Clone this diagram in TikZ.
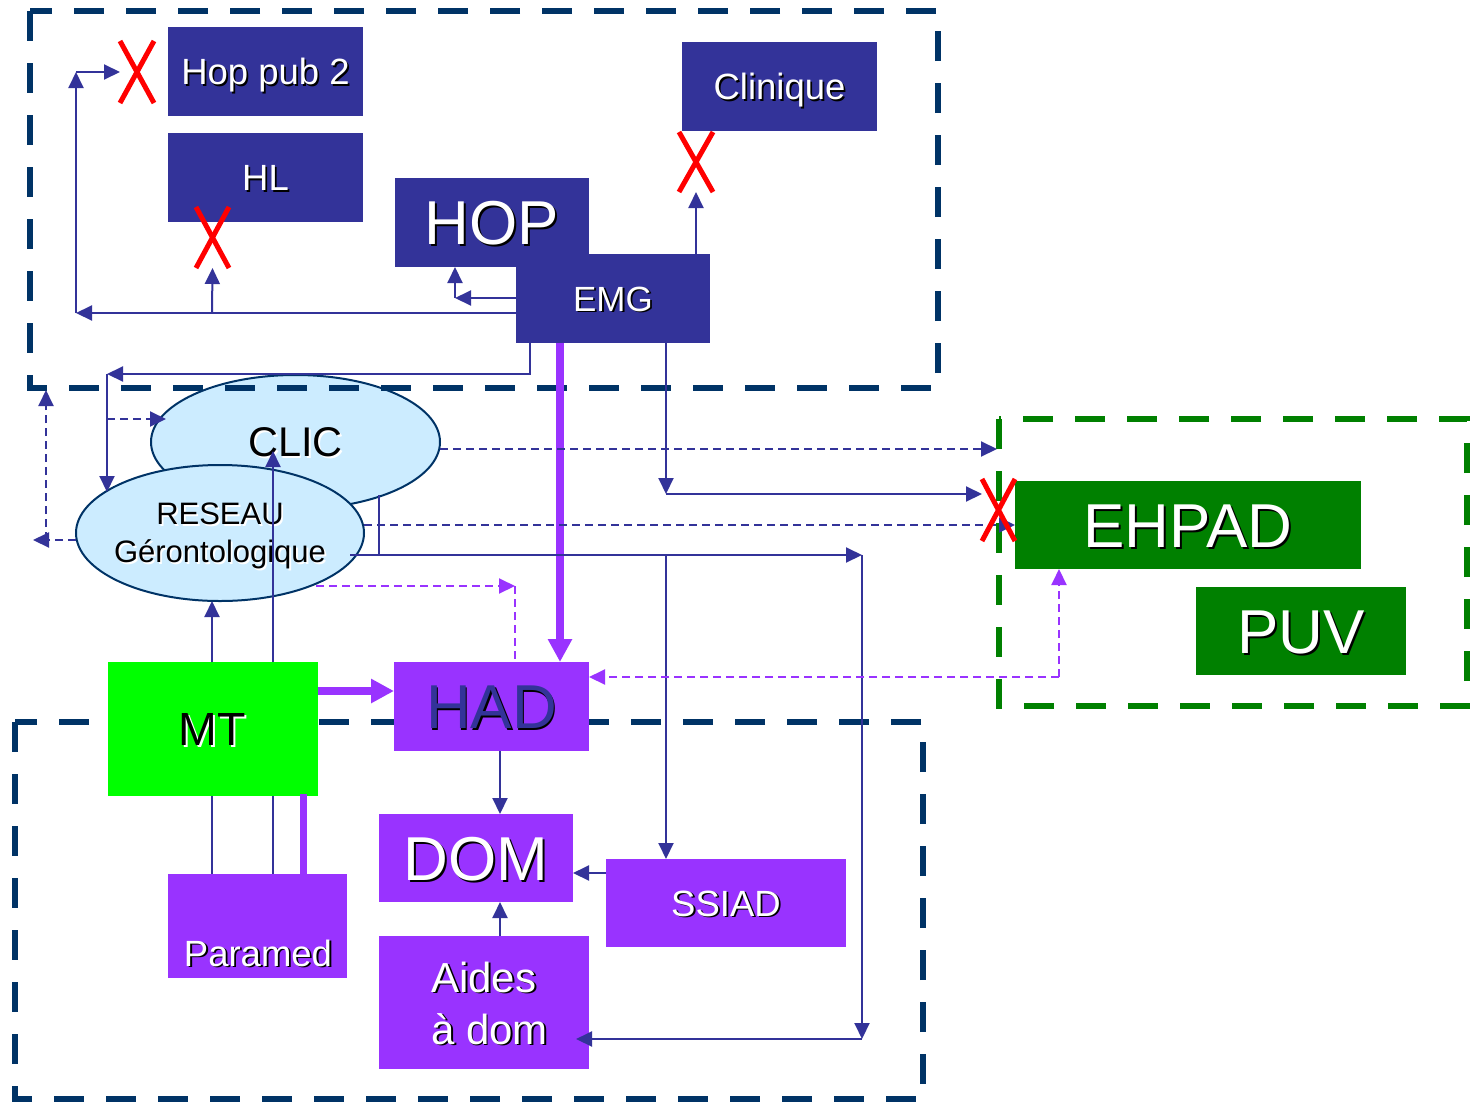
\documentclass[tikz,border=0pt]{standalone}
\usepackage{fontspec}
\setmainfont{Liberation Sans}
\usetikzlibrary{arrows.meta,shapes.geometric}
\definecolor{boxblue}{HTML}{333399}
\definecolor{lineblue}{HTML}{333399}
\definecolor{purp}{HTML}{9933FF}
\definecolor{framedark}{HTML}{003366}
\definecolor{framegreen}{HTML}{008000}
\definecolor{mtgreen}{HTML}{00FF00}
\definecolor{clicfill}{HTML}{CCECFF}
\newcommand\shd[2][black]{\leavevmode\rlap{\kern1.8pt\raisebox{-1.8pt}{\textcolor{#1}{#2}}}#2}
\newcommand\fbig{\fontsize{62pt}{70pt}\selectfont}
\newcommand\fmed{\fontsize{36.5pt}{44pt}\selectfont}
\newcommand\femg{\fontsize{35pt}{42pt}\selectfont}
\newcommand\fclic{\fontsize{41.5pt}{48pt}\selectfont}
\newcommand\fres{\fontsize{31pt}{38pt}\selectfont}
\newcommand\fmt{\fontsize{46.5pt}{54pt}\selectfont}
\newcommand\faides{\fontsize{42pt}{52pt}\selectfont}
\begin{document}
\begin{tikzpicture}[x=1pt,y=-1pt,
  box/.style={draw=none, inner sep=0pt, outer sep=0pt, anchor=center},
  bbox/.style={box, fill=boxblue, text=white},
  pbox/.style={box, fill=purp, text=white},
  gbox/.style={box, fill=framegreen, text=white},
  conn/.style={draw=lineblue, line width=2pt},
  arr/.style={conn, -{Triangle[length=16pt,width=15pt]}},
  darr/.style={arr, dash pattern=on 8pt off 5pt},
  pconn/.style={draw=purp, line width=2pt, dash pattern=on 8pt off 5pt},
  pdarr/.style={pconn, -{Triangle[length=16pt,width=15pt]}},
  parr/.style={draw=purp, line width=8pt, -{Triangle[length=23pt,width=23pt]}},
  pthick/.style={draw=purp, line width=7pt},
  redx/.style={draw=red, line width=5pt},
  bframe/.style={draw=framedark, line width=6pt, dash pattern=on 30pt off 22pt},
  gframe/.style={draw=framegreen, line width=6pt, dash pattern=on 30pt off 22pt},
  ell/.style={ellipse, draw=framedark, line width=2pt, fill=clicfill, inner sep=0pt, outer sep=0pt},
  capmed/.style={font=\fmed, text height=26pt, text depth=0pt},
  capbig/.style={font=\fbig, text height=44.5pt, text depth=0pt}
]
\useasboundingbox (0,0) rectangle (1477,1103);

% ellipses
\node[ell, minimum width=289pt, minimum height=134pt, font=\fclic, text height=29.7pt, text depth=0pt] (clic) at (295.5,442) {\shd[white]{CLIC}};
\node[ell, minimum width=288pt, minimum height=136pt] (reseau) at (220,533) {};
\node[font=\fres, align=center, inner sep=0pt] (restxt) at (220,537) {\shd[white]{RESEAU}\\\shd[white]{Gérontologique}};

% frames
\draw[bframe] (30,11) rectangle (938,388);
\draw[bframe] (15,722) rectangle (923,1099);
\draw[gframe] (999,419) rectangle (1467,706);

% boxes
\node[bbox, capmed, minimum width=195pt, minimum height=89pt] (hoppub) at (265.5,71.5) {\shd{Hop pub 2}};
\node[bbox, capmed, minimum width=195pt, minimum height=89pt] (hl) at (265.5,177.5) {\shd{HL}};
\node[bbox, capbig, minimum width=194pt, minimum height=89pt] (hop) at (492,222.5) {\shd[black]{HOP}};
\node[bbox, font=\femg, text height=25pt, text depth=0pt, minimum width=194pt, minimum height=89pt] (emg) at (613,298.5) {\shd{EMG}};
\node[bbox, capmed, minimum width=195pt, minimum height=89pt] (clinique) at (779.5,86.5) {\shd{Clinique}};
\node[box, fill=mtgreen, text=black, font=\fmt, text height=33.3pt, text depth=0pt, minimum width=210pt, minimum height=134pt] (mt) at (212.5,729) {\shd[white]{MT}};
\node[pbox, capbig, text=boxblue, minimum width=195pt, minimum height=89pt] (had) at (491.5,706.5) {\shd{HAD}};
\node[pbox, capbig, minimum width=194pt, minimum height=88pt] (dom) at (476,858) {\shd{DOM}};
\node[pbox, capmed, minimum width=240pt, minimum height=88pt] (ssiad) at (726,903) {\shd{SSIAD}};
\node[pbox, minimum width=210pt, minimum height=133pt] (aides) at (484,1002.5) {};
\node[font=\faides, text=white, align=left, inner sep=0pt, anchor=west] (aidestxt) at (431,1004) {\shd{Aides}\\\shd{à dom}};
\node[pbox, minimum width=179pt, minimum height=104pt] (paramed) at (257.5,926) {};
\node[capmed, text=white, inner sep=0pt] (paramedtxt) at (258,953) {\shd{Paramed}};
\node[gbox, capbig, minimum width=346pt, minimum height=88pt] (ehpad) at (1188,525) {\shd{EHPAD}};
\node[gbox, capbig, minimum width=210pt, minimum height=88pt] (puv) at (1301,631) {\shd{PUV}};

% red crosses (placeholders)
\node[box, minimum width=34pt, minimum height=62pt] (xhop) at (137,72) {};
\node[box, minimum width=33pt, minimum height=61pt] (xhl) at (212.5,237.5) {};
\node[box, minimum width=34pt, minimum height=60pt] (xcl) at (696,162) {};
\node[box, minimum width=33pt, minimum height=62pt] (xeh) at (998.5,510) {};

% coordinates
\coordinate (b1) at (76,313);
\coordinate (b2) at (76,72);
\coordinate (b3) at (212,313);
\coordinate (b4) at (455,298);
\coordinate (b5) at (530,374);
\coordinate (b6) at (107,374);
\coordinate (b7) at (107,492);
\coordinate (b8) at (107,419);
\coordinate (b8e) at (166,419);
\coordinate (pcol) at (560,0);
\coordinate (b9) at (666,494);
\coordinate (g1) at (997,449);
\coordinate (l1) at (33,540);
\coordinate (l2) at (46,540);
\coordinate (l3) at (46,390);
\coordinate (b10) at (379,495);
\coordinate (b11) at (379,555);
\coordinate (b13) at (350,555);
\coordinate (b12) at (862,555);
\coordinate (b14) at (862,1039);
\coordinate (a1) at (576,1039);
\coordinate (b15) at (666,555);
\coordinate (r1) at (212,601);
\coordinate (c2) at (273,451);
\coordinate (p2) at (316,586);
\coordinate (p3) at (515,586);
\coordinate (p4) at (0,691);
\coordinate (d1) at (500,0);
\coordinate (s1) at (0,873);
\coordinate (p5) at (303,0);
\coordinate (e1) at (1059,677);

% connectors
\draw[arr] (emg.west |- b1) -- (b1);
\draw[arr] (b1) -- (b2);
\draw[arr] (b2) -- (xhop.west);
\draw[arr] (b3) -- (xhl.south);
\draw[arr] (emg.west |- b4) -- (b4);
\draw[arr] (b4) -- (b4 |- hop.south);
\draw[arr] (xcl.south |- emg.north) -- (xcl.south);
\draw[arr] (emg.south -| b5) -- (b5) -- (b6);
\draw[arr] (b6) -- (b7);
\draw[darr] (b8) -- (b8e);
\draw[parr] (emg.south -| pcol) -- (had.north -| pcol);
\draw[arr] (emg.south -| b9) -- (b9);
\draw[arr] (b9) -- (xeh.west |- b9);
\draw[darr] (clic.east |- g1) -- (g1);
\draw[darr] (reseau.east |- ehpad.west) -- (ehpad.west);
\draw[darr] (reseau.west |- l1) -- (l1);
\draw[darr] (l2) -- (l3);
\draw[conn] (b10) -- (b11);
\draw[arr] (b13) -- (b12);
\draw[arr] (b12) -- (b14);
\draw[arr] (b14) -- (a1);
\draw[arr] (b15) -- (ssiad.north -| b15);
\draw[arr] (mt.north -| r1) -- (r1);
\draw[arr] (mt.north -| c2) -- (c2);
\draw[pdarr] (p2) -- (p3);
\draw[pconn] (p3) -- (had.north -| p3);
\draw[parr] (mt.east |- p4) -- (had.west |- p4);
\draw[arr] (had.south -| d1) -- (dom.north -| d1);
\draw[arr] (aides.north -| d1) -- (dom.south -| d1);
\draw[arr] (ssiad.west |- s1) -- (dom.east |- s1);
\draw[conn] (mt.south -| r1) -- (paramed.north -| r1);
\draw[conn] (mt.south -| c2) -- (paramed.north -| c2);
\draw[pthick] ([yshift=2pt]mt.south -| p5) -- ([yshift=-2pt]paramed.north -| p5);
\draw[pdarr] (e1) -- (ehpad.south -| e1);
\draw[pdarr] (e1) -- (had.east |- e1);

% red crosses
\foreach \n in {xhop,xhl,xcl,xeh}{
  \draw[redx] (\n.north west) -- (\n.south east);
  \draw[redx] (\n.north east) -- (\n.south west);
}
\end{tikzpicture}
\end{document}
